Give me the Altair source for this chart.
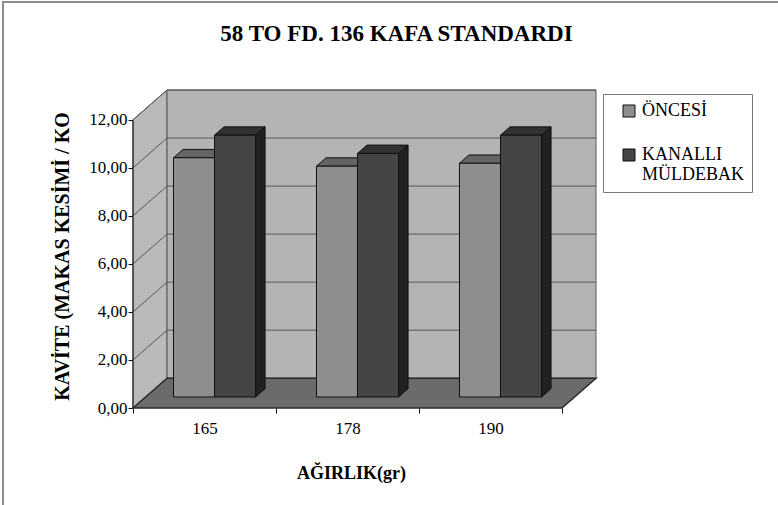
import json

import altair as alt
import pandas as pd

# ---------------- data ----------------
categories = ["165", "178", "190"]
series_names = ["ÖNCESİ", "KANALLI MÜLDEBAK"]
oncesi = [9.96, 9.61, 9.73]
kanalli = [10.90, 10.14, 10.90]
y_ticks = [0, 2, 4, 6, 8, 10, 12]

TITLE = "58 TO FD. 136 KAFA STANDARDI"
X_TITLE = "AĞIRLIK(gr)"
Y_TITLE = "KAVİTE (MAKAS KESİMİ / KO"

# ---------------- look ----------------
FONT = "Liberation Serif"
FRONT = ["#8e8e8e", "#454545"]
TOP = ["#646464", "#323232"]
SIDE = ["#555555", "#212121"]
EDGE = "#111111"
WALL = "#b4b4b4"
SIDE_WALL = "#b9b9b9"
FLOOR = "#6b6b6b"
GRID = "#575757"

# oblique projection: walls recede by (DX, DY); bars sit between depth F0 and F1
N = len(categories)
Y_TOP = y_ticks[-1]
DX, DY = 0.238, 1.24
F0, F1 = 0.37, 0.65
BAR_LEAD = 0.195
BAR_W = 0.287

xs = alt.Scale(domain=[0, N + DX], nice=False, zero=False)
ys = alt.Scale(domain=[0, Y_TOP + DY], nice=False, zero=False)

cat_js = json.dumps(categories)
x_axis = alt.Axis(
    values=[k / 2 for k in range(2 * N + 1)],
    labelExpr=f"datum.value % 1 === 0 ? '' : {cat_js}[floor(datum.value)]",
    tickOpacity={"condition": {"test": "datum.value % 1 === 0", "value": 1}, "value": 0},
    domain=False, grid=False, ticks=True, tickSize=5, tickColor=EDGE,
    labelFont=FONT, labelFontSize=17, labelColor="black", labelPadding=7,
    labelOverlap=False, labelFlush=False,
    title=X_TITLE, titleFont=FONT, titleFontSize=18, titleFontWeight="bold",
    titleColor="black", titleX=218, titleY=70, titleAlign="center",
    titleBaseline="alphabetic",
)
y_axis = alt.Axis(
    values=y_ticks,
    labelExpr="replace(format(datum.value, '.2f'), '.', ',')",
    domain=False, grid=False, ticks=True, tickSize=5, tickColor=EDGE,
    labelFont=FONT, labelFontSize=17, labelColor="black", labelPadding=1,
    title=Y_TITLE, titleFont=FONT, titleFontSize=20, titleFontWeight="bold",
    titleColor="black", titleX=-71, titleY=166, titleAlign="center",
    titleBaseline="middle",
)


def X(field):
    return alt.X(field, scale=xs, axis=x_axis)


def Y(field):
    return alt.Y(field, scale=ys, axis=y_axis)


# ---------------- geometry tables ----------------
left_wall_df = pd.DataFrame({"x": [0.0, DX], "y": [0.0, DY], "y2": [Y_TOP, Y_TOP + DY]})
back_wall_df = pd.DataFrame({"x": [DX], "x2": [N + DX], "y": [DY], "y2": [Y_TOP + DY]})
floor_df = pd.DataFrame({"y": [0.0, DY], "x": [0.0, DX], "x2": [float(N), N + DX]})
axis_line_df = pd.DataFrame({"x": [0.0], "y": [0.0], "y2": [float(Y_TOP)]})

grid_rows = []
for v in y_ticks[1:]:
    grid_rows += [
        {"v": v, "x": 0.0, "y": v},
        {"v": v, "x": DX, "y": v + DY},
        {"v": v, "x": N + DX, "y": v + DY},
    ]
grid_df = pd.DataFrame(grid_rows)

ddx = (F1 - F0) * DX
ddy = (F1 - F0) * DY
base = F0 * DY
fronts, tops, sides = [], [], []
for j, (name, vals) in enumerate(zip(series_names, [oncesi, kanalli])):
    for i, (cat, v) in enumerate(zip(categories, vals)):
        bid = f"{j}-{i}"
        x0 = i + BAR_LEAD + F0 * DX + j * BAR_W
        x1 = x0 + BAR_W
        top = base + v
        fronts.append({"bar": bid, "series": name, "category": cat, "value": v,
                       "x": x0, "x2": x1, "y": base, "y2": top})
        tops += [
            {"bar": bid, "series": name, "y": top, "x": x0, "x2": x1},
            {"bar": bid, "series": name, "y": top + ddy, "x": x0 + ddx, "x2": x1 + ddx},
        ]
        sides += [
            {"bar": bid, "series": name, "x": x1, "y": top, "y2": base},
            {"bar": bid, "series": name, "x": x1 + ddx, "y": top + ddy, "y2": base + ddy},
        ]
front_df = pd.DataFrame(fronts)
top_df = pd.DataFrame(tops)
side_df = pd.DataFrame(sides)

# ---------------- layers ----------------
frame = alt.Chart(pd.DataFrame({"k": [0]})).mark_rect(
    fillOpacity=0, stroke="#8c8c8c", strokeWidth=2
).encode(
    x=alt.value(-130), x2=alt.value(680), y=alt.value(-88), y2=alt.value(440)
)

left_wall = alt.Chart(left_wall_df).mark_area(
    fill=SIDE_WALL, stroke=GRID, strokeWidth=1, orient="vertical"
).encode(x=X("x:Q"), y=Y("y:Q"), y2="y2:Q")

back_wall = alt.Chart(back_wall_df).mark_rect(
    fill=WALL, stroke=GRID, strokeWidth=1
).encode(x=X("x:Q"), x2="x2:Q", y=Y("y:Q"), y2="y2:Q")

grid = alt.Chart(grid_df).mark_line(color=GRID, strokeWidth=1).encode(
    x=X("x:Q"), y=Y("y:Q"), detail="v:N"
)

floor = alt.Chart(floor_df).mark_area(
    fill=FLOOR, stroke="#2a2a2a", strokeWidth=1.5, orient="horizontal"
).encode(y=Y("y:Q"), x=X("x:Q"), x2="x2:Q")

axis_line = alt.Chart(axis_line_df).mark_rule(color=EDGE, strokeWidth=1).encode(
    x=X("x:Q"), y=Y("y:Q"), y2="y2:Q"
)

legend = alt.Legend(
    title=None, orient="none", legendX=470, legendY=4, direction="vertical",
    symbolType="square", symbolSize=144, symbolStrokeColor=EDGE, symbolStrokeWidth=1,
    labelFont=FONT, labelFontSize=18, labelColor="black",
    labelExpr="split(datum.label, ' ')", labelOffset=4, labelLimit=0,
    padding=8, symbolOffset=9, rowPadding=26,
    strokeColor="#777777", fillColor="white",
)
color = alt.Color("series:N", scale=alt.Scale(domain=series_names, range=FRONT), legend=legend)

bar_layers = []
for j, name in enumerate(series_names):
    side = alt.Chart(side_df).transform_filter(alt.datum.series == name).mark_area(
        fill=SIDE[j], stroke=EDGE, strokeWidth=1, orient="vertical"
    ).encode(x=X("x:Q"), y=Y("y:Q"), y2="y2:Q", detail="bar:N")
    top = alt.Chart(top_df).transform_filter(alt.datum.series == name).mark_area(
        fill=TOP[j], stroke=EDGE, strokeWidth=1, orient="horizontal"
    ).encode(y=Y("y:Q"), x=X("x:Q"), x2="x2:Q", detail="bar:N")
    front = alt.Chart(front_df).transform_filter(alt.datum.series == name).mark_rect(
        stroke=EDGE, strokeWidth=1
    ).encode(x=X("x:Q"), x2="x2:Q", y=Y("y:Q"), y2="y2:Q", color=color)
    bar_layers += [side, top, front]

chart = alt.layer(
    frame, left_wall, back_wall, grid, floor, axis_line, *bar_layers
).properties(
    width=463,
    height=318,
    autosize=alt.AutoSizeParams(type="none"),
    padding={"left": 133, "top": 90, "right": 182, "bottom": 97},
    title=alt.TitleParams(
        TITLE, font=FONT, fontSize=23, fontWeight="bold", color="black",
        anchor="middle", dx=32, offset=-63, baseline="alphabetic",
    ),
    background="white",
).configure_view(stroke=None)

chart.save("out.html", embed_options={"renderer": "svg", "actions": False})
